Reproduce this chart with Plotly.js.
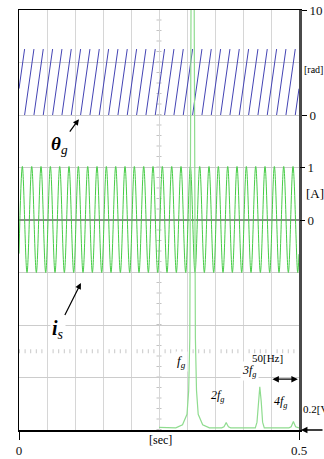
<!DOCTYPE html>
<html>
<head>
<meta charset="utf-8">
<script src="https://cdn.plot.ly/plotly-3.0.1.min.js"></script>
<style>html,body{margin:0;padding:0;background:#fff;}#chart{width:324px;height:459px;}</style>
</head>
<body>
<div id="chart"></div>
<script>
// ---- theta_g : PLL phase angle [rad] (sawtooth, 60 Hz) ----
var thetaTime = [
  0, 0.0100, 0.0100,
  0.0100, 0.0267, 0.0267,
  0.0267, 0.0433, 0.0433,
  0.0433, 0.0600, 0.0600,
  0.0600, 0.0767, 0.0767,
  0.0767, 0.0933, 0.0933,
  0.0933, 0.1100, 0.1100,
  0.1100, 0.1267, 0.1267,
  0.1267, 0.1433, 0.1433,
  0.1433, 0.1600, 0.1600,
  0.1600, 0.1767, 0.1767,
  0.1767, 0.1933, 0.1933,
  0.1933, 0.2100, 0.2100,
  0.2100, 0.2267, 0.2267,
  0.2267, 0.2433, 0.2433,
  0.2433, 0.2600, 0.2600,
  0.2600, 0.2767, 0.2767,
  0.2767, 0.2933, 0.2933,
  0.2933, 0.3100, 0.3100,
  0.3100, 0.3267, 0.3267,
  0.3267, 0.3433, 0.3433,
  0.3433, 0.3600, 0.3600,
  0.3600, 0.3767, 0.3767,
  0.3767, 0.3933, 0.3933,
  0.3933, 0.4100, 0.4100,
  0.4100, 0.4267, 0.4267,
  0.4267, 0.4433, 0.4433,
  0.4433, 0.4600, 0.4600,
  0.4600, 0.4767, 0.4767,
  0.4767, 0.4933, 0.4933,
  0.4933, 0.5000
];
var thetaRad = [
  2.51, 6.28, null,
  0, 6.28, null,  0, 6.28, null,  0, 6.28, null,  0, 6.28, null,  0, 6.28, null,
  0, 6.28, null,  0, 6.28, null,  0, 6.28, null,  0, 6.28, null,  0, 6.28, null,
  0, 6.28, null,  0, 6.28, null,  0, 6.28, null,  0, 6.28, null,  0, 6.28, null,
  0, 6.28, null,  0, 6.28, null,  0, 6.28, null,  0, 6.28, null,  0, 6.28, null,
  0, 6.28, null,  0, 6.28, null,  0, 6.28, null,  0, 6.28, null,  0, 6.28, null,
  0, 6.28, null,  0, 6.28, null,  0, 6.28, null,  0, 6.28, null,
  0, 2.51
];

// ---- i_s : current [A] (extrema of the 60 Hz wave) ----
var currentTime = [
  0, 0.0060, 0.0143, 0.0227, 0.0310, 0.0393, 0.0477, 0.0560, 0.0643, 0.0727, 0.0810,
  0.0893, 0.0977, 0.1060, 0.1143, 0.1227, 0.1310, 0.1393, 0.1477, 0.1560, 0.1643,
  0.1727, 0.1810, 0.1893, 0.1977, 0.2060, 0.2143, 0.2227, 0.2310, 0.2393, 0.2477,
  0.2560, 0.2643, 0.2727, 0.2810, 0.2893, 0.2977, 0.3060, 0.3143, 0.3227, 0.3310,
  0.3393, 0.3477, 0.3560, 0.3643, 0.3727, 0.3810, 0.3893, 0.3977, 0.4060, 0.4143,
  0.4227, 0.4310, 0.4393, 0.4477, 0.4560, 0.4643, 0.4727, 0.4810, 0.4893, 0.4977,
  0.5000
];
var currentAmp = [
  -0.64, 1.02, -1.0, 1.02, -1.0, 1.02, -1.0, 1.02, -1.0, 1.02, -1.0,
  1.02, -1.0, 1.02, -1.0, 1.02, -1.0, 1.02, -1.0, 1.02, -1.0,
  1.02, -1.0, 1.02, -1.0, 1.02, -1.0, 1.02, -1.0, 1.02, -1.0,
  1.02, -1.0, 1.02, -1.0, 1.02, -1.0, 1.02, -1.0, 1.02, -1.0,
  1.02, -1.0, 1.02, -1.0, 1.02, -1.0, 1.02, -1.0, 1.02, -1.0,
  1.02, -1.0, 1.02, -1.0, 1.02, -1.0, 1.02, -1.0, 1.02, -1.0,
  -0.65
];

// ---- spectrum of i_s : frequency [Hz] vs amplitude [V] ----
var specFreq = [0, 30, 42, 50, 53, 55, 57, 58.5, 60, 61.5, 63, 65, 67, 70, 78, 90,
  112, 116, 118, 120, 122, 124, 128, 150,
  172, 175, 177.5, 180, 182.5, 185, 188, 210,
  232, 236, 238, 240, 242, 244, 250];
var specVolt = [0.01, 0.008, 0.02, 0.06, 0.15, 0.35, 1.5, 2.6, 3.2, 2.6, 1.5, 0.35, 0.15, 0.06, 0.02, 0.008,
  0.008, 0.012, 0.02, 0.028, 0.02, 0.012, 0.008, 0.008,
  0.008, 0.03, 0.11, 0.165, 0.11, 0.03, 0.008, 0.008,
  0.008, 0.012, 0.022, 0.032, 0.022, 0.012, 0.008];

// tick labels
var timeTickVals = [0, 0.5];
var timeTickText = ['0', '0.5'];
var thetaTickVals = [0, 10];
var thetaTickText = ['0', '10'];
var currentTickVals = [0, 1];
var currentTickText = ['0', '1'];

var FONT = 'Liberation Serif, Times New Roman, serif';

var traces = [
  {x: thetaTime, y: thetaRad, xaxis: 'x', yaxis: 'y', type: 'scatter', mode: 'lines',
   connectgaps: false, line: {color: '#4444b4', width: 1}, hoverinfo: 'skip'},
  {x: currentTime, y: currentAmp, xaxis: 'x', yaxis: 'y3', type: 'scatter', mode: 'lines',
   line: {color: '#46cc46', width: 1, shape: 'spline', smoothing: 1}, hoverinfo: 'skip'},
  {x: specFreq, y: specVolt, xaxis: 'x3', yaxis: 'y4', type: 'scatter', mode: 'lines',
   line: {color: '#8fdc8f', width: 1.2}, hoverinfo: 'skip'}
];

var layout = {
  width: 324, height: 459,
  margin: {l: 19, r: 25, t: 10, b: 29, pad: 0},
  paper_bgcolor: '#ffffff', plot_bgcolor: '#ffffff',
  showlegend: false,
  font: {family: FONT, size: 12, color: '#111'},
  xaxis: {range: [0, 0.5], tickmode: 'array', tickvals: timeTickVals, ticktext: timeTickText,
          ticks: 'outside', ticklen: 8, tickwidth: 1, tickcolor: '#000', showgrid: false,
          zeroline: false, showline: true, linecolor: '#000', linewidth: 1.5, mirror: true,
          tickfont: {family: FONT, size: 13, color: '#111'}},
  xaxis3: {overlaying: 'x', anchor: 'y', range: [-250, 250], tick0: -250, dtick: 50,
           showgrid: true, gridcolor: '#d6d6d6', gridwidth: 1, zeroline: false,
           showticklabels: false, ticks: '', showline: false},
  yaxis: {range: [-30, 10], tickmode: 'array', tickvals: thetaTickVals, ticktext: thetaTickText,
          side: 'right', ticks: 'outside', ticklen: 5, tickcolor: '#000', showgrid: false,
          zeroline: false, showline: true, linecolor: '#4a4a4a', linewidth: 3,
          tickfont: {family: FONT, size: 13, color: '#111'}},
  yaxis3: {overlaying: 'y', anchor: 'x', side: 'right', range: [-4, 4], tickmode: 'array',
           tickvals: currentTickVals, ticktext: currentTickText, ticks: 'outside', ticklen: 5,
           tickcolor: '#000', showgrid: false, zeroline: true, zerolinecolor: '#8a8a8a',
           zerolinewidth: 1.5, showline: false, tickfont: {family: FONT, size: 13, color: '#111'}},
  yaxis4: {overlaying: 'y', anchor: 'x', side: 'left', range: [0, 1.6], tick0: 0, dtick: 0.2,
           showgrid: true, gridcolor: '#cccccc', gridwidth: 1, zeroline: false,
           showticklabels: false, ticks: '', showline: true, linecolor: '#000', linewidth: 1.5},
  shapes: [
    {type: 'line', xref: 'x', yref: 'paper', x0: 0.25, x1: 0.25, y0: 0, y1: 1,
     line: {color: '#c4c4c4', width: 5, dash: '1px,9.5px'}, layer: 'below'},
    {type: 'line', xref: 'x', yref: 'y4', x0: 0, x1: 0.5, y0: 0.3, y1: 0.3,
     line: {color: '#c8c8c8', width: 4, dash: '1px,4.6px'}, layer: 'below'}
  ],
  annotations: [
    {xref: 'paper', yref: 'paper', x: 0.214, y: 0.740, ax: -19, ay: 26, showarrow: true,
     arrowhead: 2, arrowsize: 1, arrowwidth: 1.2, arrowcolor: '#000', standoff: 0,
     text: '<i><b>θ</b><sub>g</sub></i>', font: {family: FONT, size: 19, color: '#000'}},
    {xref: 'paper', yref: 'paper', x: 0.221, y: 0.350, ax: -23, ay: 46, showarrow: true,
     arrowhead: 2, arrowsize: 1, arrowwidth: 1.2, arrowcolor: '#000', standoff: 0, bgcolor: '#ffffff',
     text: '<b><i>i</i></b><sub><i>s</i></sub>', font: {family: FONT, size: 20, color: '#000'}},
    {xref: 'paper', yref: 'paper', x: 0.579, y: 0.138, showarrow: false, bgcolor: '#ffffff',
     text: '<i>f<sub>g</sub></i>', font: {family: FONT, size: 13, color: '#000'}},
    {xref: 'paper', yref: 'paper', x: 0.743, y: 0.057, showarrow: false,
     text: '<i>2f<sub>g</sub></i>', font: {family: FONT, size: 12, color: '#000'}},
    {xref: 'paper', yref: 'paper', x: 0.857, y: 0.117, showarrow: false, bgcolor: '#ffffff',
     text: '<i>3f<sub>g</sub></i>', font: {family: FONT, size: 12, color: '#000'}},
    {xref: 'paper', yref: 'paper', x: 0.968, y: 0.043, showarrow: false,
     text: '<i>4f<sub>g</sub></i>', font: {family: FONT, size: 12, color: '#000'}},
    {xref: 'paper', yref: 'paper', x: 0.95, y: 0.152, showarrow: false,
     text: '50[Hz]', font: {family: FONT, size: 11, color: '#000'}},
    {xref: 'paper', yref: 'paper', x: 0.996, y: 0.121, ax: -27, ay: 0, showarrow: true,
     arrowside: 'end+start', arrowhead: 2, arrowsize: 1, arrowwidth: 1.3, arrowcolor: '#000',
     standoff: 0, startstandoff: 0, text: ''},
    {xref: 'paper', yref: 'paper', x: 1.007, y: 0.031, xanchor: 'left', showarrow: false,
     text: '0.2[V/div]', font: {family: FONT, size: 11, color: '#000'}},
    {xref: 'paper', yref: 'paper', x: 1.007, y: 0.0, ax: 24, ay: 0, showarrow: true,
     arrowhead: 2, arrowsize: 1, arrowwidth: 1.3, arrowcolor: '#000', standoff: 0, text: ''},
    {xref: 'paper', yref: 'paper', x: 1.011, y: 0.876, xanchor: 'left', showarrow: false,
     text: '[rad]', font: {family: FONT, size: 10, color: '#000'}},
    {xref: 'paper', yref: 'paper', x: 1.018, y: 0.562, xanchor: 'left', showarrow: false,
     text: '[A]', font: {family: FONT, size: 13, color: '#000'}},
    {xref: 'paper', yref: 'paper', x: 0.504, y: -0.045, showarrow: false,
     text: '[sec]', font: {family: FONT, size: 12, color: '#000'}}
  ]
};

Plotly.newPlot('chart', traces, layout, {staticPlot: true, displayModeBar: false});
</script>
</body>
</html>
